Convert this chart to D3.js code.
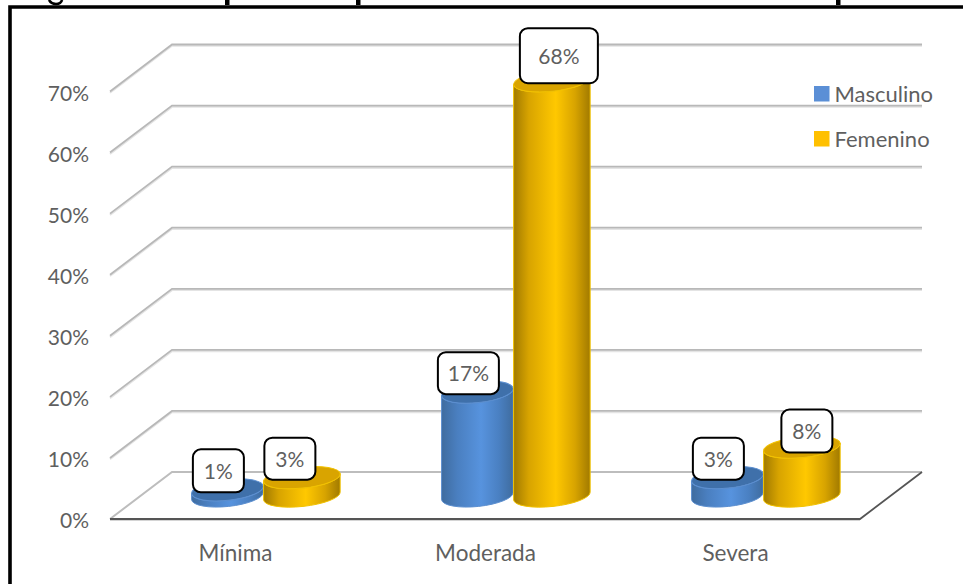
<!DOCTYPE html>
<html><head><meta charset="utf-8">
<script src="https://cdn.jsdelivr.net/npm/d3@7"></script>
<style>html,body{margin:0;padding:0;background:#fff}svg{display:block}text{font-family:Lato,"Open Sans",sans-serif;fill:#5f5f5f}</style>
</head><body><svg id="c" width="963" height="584"></svg>
<script>
const categories = ["Mínima", "Moderada", "Severa"];
const seriesNames = ["Masculino", "Femenino"];
const masculino = [1, 17, 3];
const femenino = [3, 68, 8];
const axisTicks = [0, 10, 20, 30, 40, 50, 60, 70];

const svg = d3.select("#c");
const defs = svg.append("defs");
function grad(id, stops) {
  const g = defs.append("linearGradient").attr("id", id).attr("x1", 0).attr("x2", 1).attr("y1", 0).attr("y2", 0);
  stops.forEach(s => g.append("stop").attr("offset", s[0]).attr("stop-color", s[1]));
}
grad("gBlue", [[0, "#3f6c9f"], [.22, "#4a7fc0"], [.55, "#5793de"], [.8, "#4a80c2"], [1, "#3f6c9f"]]);
grad("gGold", [[0, "#a17a00"], [.2, "#d8a400"], [.55, "#ffc800"], [.8, "#d8a400"], [1, "#a17a00"]]);

// Plot geometry
const floor = {x0: 110, x1: 860, y: 519, dx: 62, dy: -47};
const y = d3.scaleLinear().domain([0, 70]).range([floor.y, 91.5]);
const x = d3.scaleBand().domain(categories).range([floor.x0, floor.x1]);
const depth = 0.49;
const seriesStyle = {
  Masculino: {offset: -38, rx: 36, side: "url(#gBlue)", face: "#3f70aa", rim: "#5c8fd0", key: "#5b8fd6"},
  Femenino: {offset: 36.5, rx: 38.5, side: "url(#gGold)", face: "#d9a400", rim: "#f2c200", key: "#ffc000"}
};

// Frame and clipped title fragments
svg.append("path").attr("d", "M10 584V7H963").attr("fill", "none").attr("stroke", "#000").attr("stroke-width", 3.6);
svg.append("path").attr("d", "M49 0Q51 4 56 4T62 0").attr("fill", "none").attr("stroke", "#000").attr("stroke-width", 2.6);
[225, 356, 836].forEach(px => svg.append("rect").attr("x", px).attr("y", 0).attr("width", 4.5).attr("height", 5).attr("fill", "#000"));

// Gridlines: walls
const grid = svg.append("g");
axisTicks.slice(1).forEach(t => {
  const yy = y(t), p = `M${floor.x0} ${yy}L${floor.x0 + floor.dx} ${yy + floor.dy}H${floor.x1 + floor.dx}`;
  grid.append("path").attr("d", p).attr("transform", "translate(0,1.4)").attr("fill", "none").attr("stroke", "#e4e4e4").attr("stroke-width", 1.8);
  grid.append("path").attr("d", p).attr("fill", "none").attr("stroke", "#b8b8b8").attr("stroke-width", 1.8);
});
const fy = floor.y, fx0 = floor.x0, fx1 = floor.x1, bx = floor.dx, by = floor.dy;
grid.append("path").attr("d", `M${fx0} ${fy}L${fx0 + bx} ${fy + by}H${fx1 + bx}`).attr("fill", "none").attr("stroke", "#bdbdbd").attr("stroke-width", 2);
grid.append("path").attr("d", `M${fx0} ${fy + 1.3}H${fx1}`).attr("stroke", "#d4d4d4").attr("stroke-width", 1.4);
grid.append("path").attr("d", `M${fx0} ${fy}H${fx1}L${fx1 + bx} ${fy + by}`).attr("fill", "none").attr("stroke", "#555").attr("stroke-width", 1.8);

// Value axis
const axis = d3.axisLeft(y).tickValues(axisTicks).tickSize(0).tickPadding(0).tickFormat(d => d + "%");
const ag = svg.append("g").attr("transform", "translate(89,0)").call(axis);
ag.select(".domain").remove();
ag.selectAll("text").style("font-size", "21px").style("font-family", "Lato").attr("dy", "0.42em");

// Category axis
svg.selectAll("text.cat").data(categories).join("text").attr("class", "cat")
  .attr("x", d => x(d) + x.bandwidth() / 2 + 0.5).attr("y", 561).attr("text-anchor", "middle").attr("font-size", 22.5).text(d => d);

// Cylinders
const rows = [];
categories.forEach((c, i) => {
  rows.push({cat: c, name: seriesNames[0], v: masculino[i]});
  rows.push({cat: c, name: seriesNames[1], v: femenino[i]});
});
const tilt = -6, ry = 10.5;
const sin = Math.sin(tilt * Math.PI / 180), cos = Math.cos(tilt * Math.PI / 180);
function geom(d) {
  const st = seriesStyle[d.name];
  const cx = x(d.cat) + x.bandwidth() / 2 + depth * bx + st.offset;
  const base = fy + depth * by;
  const top = base - (fy - y(d.v));
  return {cx, base, top, rx: st.rx};
}
const bars = svg.append("g");
rows.forEach(d => {
  const g = geom(d), ex = g.rx * cos, ey = g.rx * sin;
  const L = g.cx - ex, R = g.cx + ex;
  const c = seriesStyle[d.name];
  bars.append("path").attr("d",
    `M${L} ${g.top - ey}L${L} ${g.base - ey}A${g.rx} ${ry} ${tilt} 0 0 ${R} ${g.base + ey}L${R} ${g.top + ey}A${g.rx} ${ry} ${tilt} 0 1 ${L} ${g.top - ey}Z`)
    .attr("fill", c.side).attr("stroke", c.rim).attr("stroke-width", 1);
  bars.append("ellipse").attr("cx", g.cx).attr("cy", g.top).attr("rx", g.rx).attr("ry", ry)
    .attr("transform", `rotate(${tilt} ${g.cx} ${g.top})`).attr("fill", c.face).attr("stroke", c.rim).attr("stroke-width", 1);
});

// Data labels (box offset and size are layout only)
const labelLayout = [
  {dx: -9, dy: -19, w: 51, h: 43}, {dx: -12, dy: -19, w: 51, h: 42},
  {dx: -9, dy: -19, w: 61, h: 42}, {dx: 7, dy: -25, w: 78, h: 55},
  {dx: -9, dy: -19, w: 51, h: 42}, {dx: 5, dy: -16, w: 51, h: 43}
];
rows.forEach((d, i) => {
  const g = geom(d), l = labelLayout[i];
  const cx = g.cx + l.dx, cy = g.top + l.dy;
  svg.append("rect").attr("x", cx - l.w / 2).attr("y", cy - l.h / 2).attr("width", l.w).attr("height", l.h)
    .attr("rx", 8).attr("fill", "#fff").attr("stroke", "#000").attr("stroke-width", 2);
  svg.append("text").attr("x", cx).attr("y", cy).attr("dy", "0.38em").attr("text-anchor", "middle").attr("font-size", 21).text(d.v + "%");
});

// Legend
const legendY = d3.scalePoint().domain(seriesNames).range([94, 139]);
seriesNames.forEach(n => {
  svg.append("rect").attr("x", 814).attr("y", legendY(n) - 8).attr("width", 15.5).attr("height", 15.5).attr("fill", seriesStyle[n].key);
  svg.append("text").attr("x", 834.5).attr("y", legendY(n)).attr("dy", "0.35em").attr("font-size", 22).text(n);
});
</script></body></html>
